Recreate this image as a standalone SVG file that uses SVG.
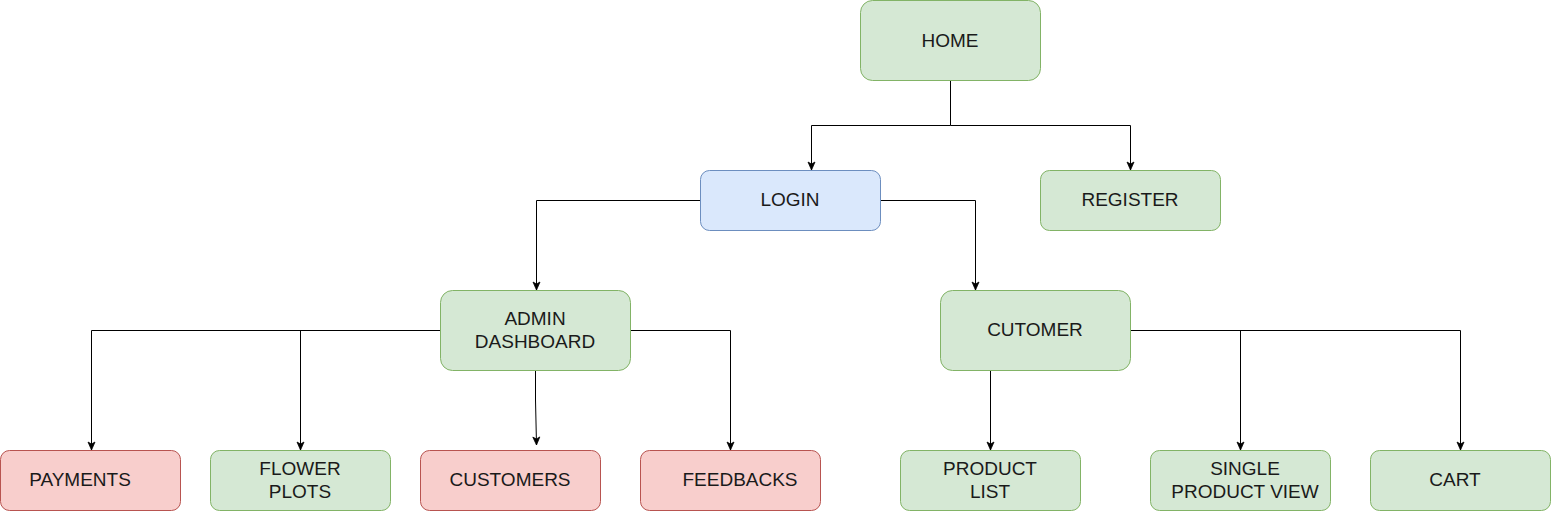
<svg xmlns="http://www.w3.org/2000/svg" width="1552" height="511" viewBox="0 0 1552 511">
<style>
.g rect{fill:#d5e8d4;stroke:#82b366;stroke-width:1}
.b rect{fill:#dae8fc;stroke:#6c8ebf;stroke-width:1}
.r rect{fill:#f8cecc;stroke:#b85450;stroke-width:1}
text{font-family:"Liberation Sans",Arial,sans-serif;font-size:19px;fill:#1a1a1a;text-anchor:middle;dominant-baseline:central}
.e path{fill:none;stroke:#000;stroke-width:1}
</style>
<defs>
<marker id="a" markerUnits="userSpaceOnUse" markerWidth="10" markerHeight="10" viewBox="0 0 10 10" refX="9" refY="5" orient="auto">
<path d="M1,1.5 L9,5 L1,8.5 L3,5 Z" fill="#000" stroke="#000" stroke-width="0.8"/>
</marker>
</defs>
<rect width="1552" height="511" fill="#fff"/>
<g class="e">
<path d="M950.5,80.5 V125.5 H811.5 V170" marker-end="url(#a)"/>
<path d="M950.5,125.5 H1130.5 V170" marker-end="url(#a)"/>
<path d="M700.5,200.5 H536.5 V290" marker-end="url(#a)"/>
<path d="M880.5,200.5 H975.5 V290" marker-end="url(#a)"/>
<path d="M440.5,330.5 H91.5 V450" marker-end="url(#a)"/>
<path d="M300.5,330.5 V450" marker-end="url(#a)"/>
<path d="M535.5,370.5 V400 L536.5,445" marker-end="url(#a)"/>
<path d="M630.5,330.5 H730.5 V450" marker-end="url(#a)"/>
<path d="M990.5,370.5 V450" marker-end="url(#a)"/>
<path d="M1130.5,330.5 H1460.5 V450" marker-end="url(#a)"/>
<path d="M1240.5,330.5 V450" marker-end="url(#a)"/>
</g>
<g id="home" class="g"><rect x="860.5" y="0.5" width="180" height="80" rx="12"/><text x="950" y="40">HOME</text></g>
<g id="login" class="b"><rect x="700.5" y="170.5" width="180" height="60" rx="9"/><text x="790" y="199">LOGIN</text></g>
<g id="register" class="g"><rect x="1040.5" y="170.5" width="180" height="60" rx="9"/><text x="1130" y="199">REGISTER</text></g>
<g id="admin" class="g"><rect x="440.5" y="290.5" width="190" height="80" rx="12"/><text x="535" y="318">ADMIN</text><text x="535" y="341">DASHBOARD</text></g>
<g id="cutomer" class="g"><rect x="940.5" y="290.5" width="190" height="80" rx="12"/><text x="1035" y="329">CUTOMER</text></g>
<g id="payments" class="r"><rect x="0.5" y="450.5" width="180" height="60" rx="9"/><text x="80" y="479">PAYMENTS</text></g>
<g id="flower" class="g"><rect x="210.5" y="450.5" width="180" height="60" rx="9"/><text x="300" y="468">FLOWER</text><text x="300" y="491">PLOTS</text></g>
<g id="customers" class="r"><rect x="420.5" y="450.5" width="180" height="60" rx="9"/><text x="510" y="479">CUSTOMERS</text></g>
<g id="feedbacks" class="r"><rect x="640.5" y="450.5" width="180" height="60" rx="9"/><text x="740" y="479">FEEDBACKS</text></g>
<g id="productlist" class="g"><rect x="900.5" y="450.5" width="180" height="60" rx="9"/><text x="990" y="468">PRODUCT</text><text x="990" y="491">LIST</text></g>
<g id="single" class="g"><rect x="1150.5" y="450.5" width="180" height="60" rx="9"/><text x="1245" y="468">SINGLE</text><text x="1245" y="491">PRODUCT VIEW</text></g>
<g id="cart" class="g"><rect x="1370.5" y="450.5" width="180" height="60" rx="9"/><text x="1455" y="479">CART</text></g>
</svg>
